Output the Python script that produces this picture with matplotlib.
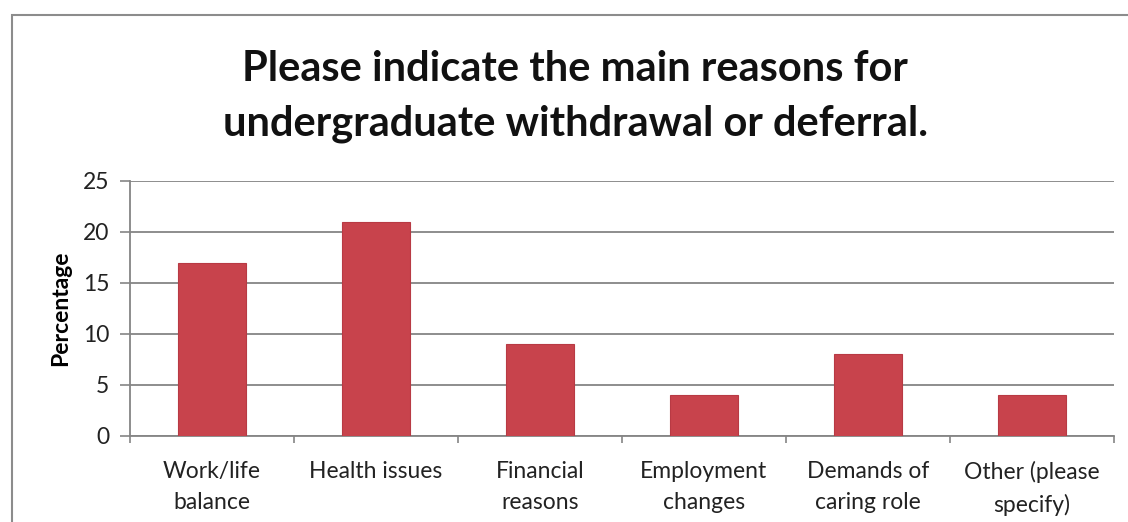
import matplotlib.pyplot as plt
from matplotlib.patches import Rectangle
import numpy as np

# survey results
categories = ['Work/life\nbalance', 'Health issues', 'Financial\nreasons',
              'Employment\nchanges', 'Demands of\ncaring role', 'Other (please\nspecify)']
percentages = [17, 21, 9, 4, 8, 4]
y_ticks = [0, 5, 10, 15, 20, 25]

plt.rcParams['font.family'] = ['Lato', 'DejaVu Sans']

fig = plt.figure(figsize=(11.28, 5.22), dpi=100)
ax = fig.add_axes([0.1152, 0.1648, 0.8724, 0.4885])

x = np.arange(len(categories))
ax.bar(x, percentages, width=0.41, color='#C8434C', edgecolor='#B83A44',
       linewidth=0.8, zorder=3)

ax.set_xlim(-0.5, len(categories) - 0.5)
ax.set_ylim(0, 25)
ax.set_yticks(y_ticks)
ax.yaxis.grid(True, color='#858585', linewidth=1.3, zorder=0)

# category labels centred, tick marks on the boundaries
ax.set_xticks(x)
ax.set_xticklabels(categories, fontsize=16.5, color='#222222', linespacing=1.6)
ax.tick_params(axis='x', which='major', length=0, pad=18)
ax.set_xticks(np.arange(len(categories) + 1) - 0.5, minor=True)
ax.tick_params(axis='x', which='minor', length=5, color='#858585', width=1.2)
ax.tick_params(axis='y', length=7, color='#858585', width=1.2, labelsize=16.5,
               labelcolor='#222222', pad=8)

for side in ['top', 'right']:
    ax.spines[side].set_visible(False)
for side in ['left', 'bottom']:
    ax.spines[side].set_color('#858585')
    ax.spines[side].set_linewidth(1.3)

ax.set_ylabel('Percentage', fontsize=16.5, fontweight='bold', labelpad=8)

fig.text(0.51, 0.815, 'Please indicate the main reasons for\nundergraduate withdrawal or deferral.',
         ha='center', va='center', fontsize=30, fontweight='bold',
         linespacing=1.55, color='#111111')

# outer chart border
fig.patches.append(Rectangle((12 / 1128, -0.05), 1.1, (522 - 15) / 522 + 0.05,
                             transform=fig.transFigure, fill=False,
                             edgecolor='#8c8c8c', linewidth=1.5))

fig.savefig('out.png', dpi=100)
